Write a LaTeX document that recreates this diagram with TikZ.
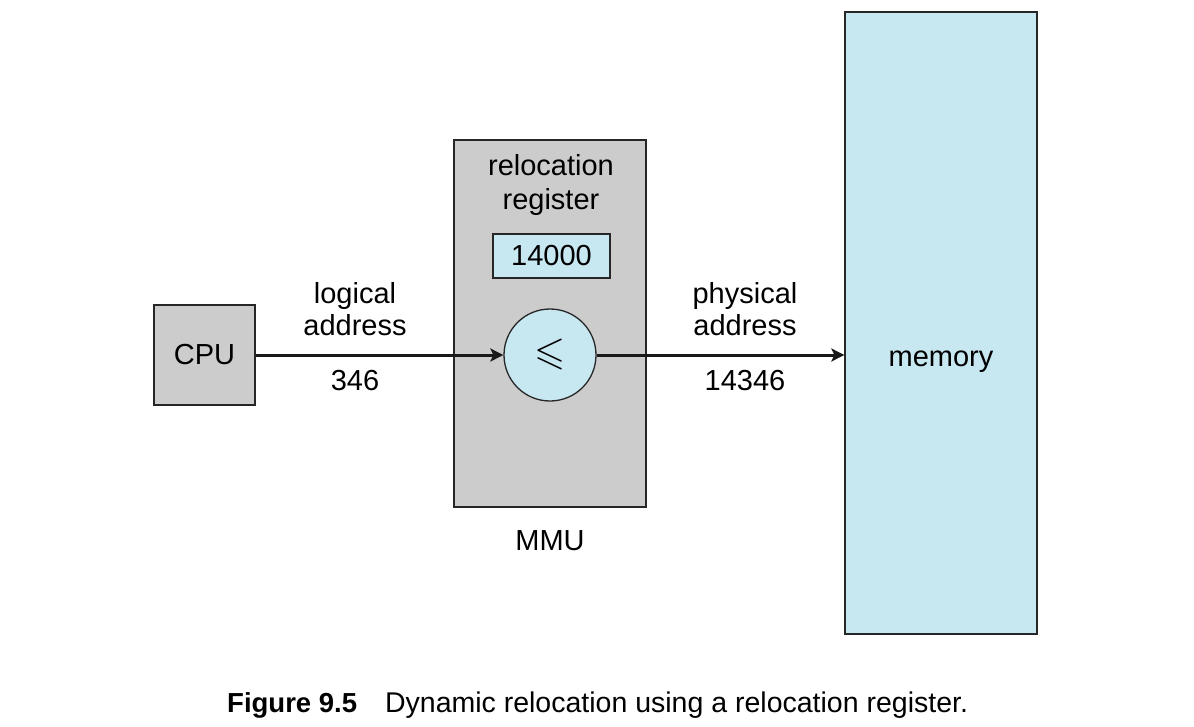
\documentclass[tikz,border=0pt]{standalone}
\usepackage{amssymb}
\usepackage{fontspec}
\setmainfont{Liberation Sans}
\usetikzlibrary{arrows.meta}
\definecolor{boxgray}{HTML}{CCCCCC}
\definecolor{paleblue}{HTML}{C7E7F1}
\begin{document}
\begin{tikzpicture}[x=1pt,y=-1pt,
  unit/.style={draw=black!85,line width=1.3pt,fill=boxgray},
  bluebox/.style={draw=black!85,line width=1.3pt,fill=paleblue},
  lbl/.style={font=\fontsize{29}{32}\selectfont,align=center,inner sep=0pt},
  flow/.style={line width=3pt,draw=black!90,-{Stealth[length=13pt,width=13pt,inset=3pt]}}]
\useasboundingbox (0,0) rectangle (1194,726);
% processor
\node[unit,minimum width=101pt,minimum height=100pt,inner sep=0pt] (cpu) at (204.5,355) {};
\node[lbl] at (cpu.center) {CPU};
% memory management unit
\node[unit,minimum width=192pt,minimum height=367pt] (mmu) at (550,323.5) {};
\node[lbl,font=\fontsize{29}{33.5}\selectfont] (reloc) at (551,185) {relocation\\register};
\node[bluebox,minimum width=117pt,minimum height=44pt,inner sep=0pt] (reg) at (551.5,256) {};
\node[lbl] at (reg.center) {14000};
\node[bluebox,circle,minimum size=92pt,inner sep=0pt] (adder) at (550,355) {};
\node[inner sep=0pt,font=\fontsize{40}{40}\selectfont] at (550,354) {$\leqslant$};
\node[lbl] (mmulbl) at (550,541) {MMU};
% main memory
\node[bluebox,minimum width=192pt,minimum height=622pt] (mem) at (941,323) {};
\node[lbl] at (941,362) {memory};
% address flow
\draw[flow] (cpu.east) -- (adder.west);
\draw[flow] (adder.east) -- (mem.west |- adder.east);
\node[lbl] (la) at (355,309) {logical\\address};
\node[lbl] (lv) at (355,381) {346};
\node[lbl] (pa) at (745,309) {physical\\address};
\node[lbl] (pv) at (745,381) {14346};
% caption
\node[inner sep=0pt,anchor=west] (cap) at (227,705) {\fontsize{27.5}{30}\selectfont\textbf{Figure 9.5}\hspace{28pt}\fontsize{28.5}{30}\selectfont Dynamic relocation using a relocation register.};
\end{tikzpicture}
\end{document}
